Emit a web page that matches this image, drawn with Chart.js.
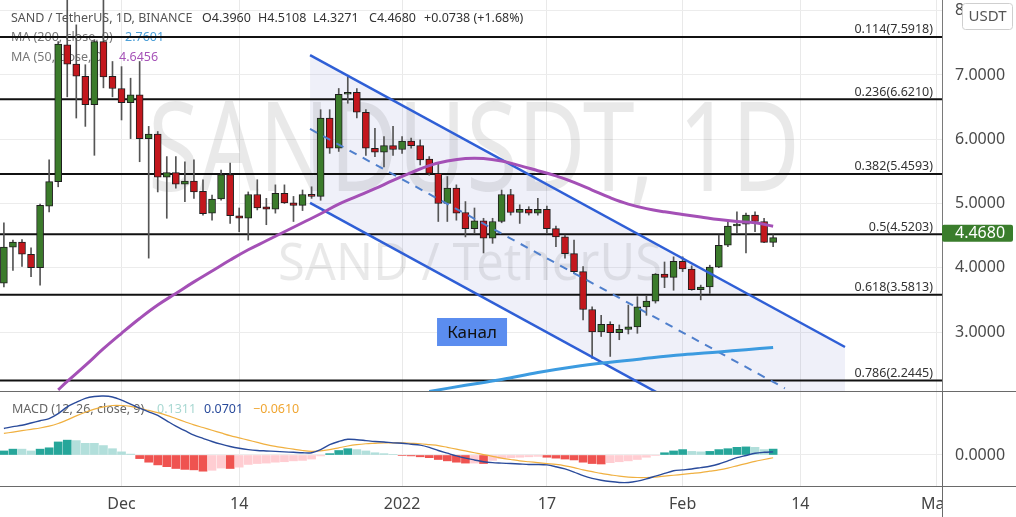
<!DOCTYPE html>
<html><head><meta charset="utf-8"><title>SANDUSDT 1D</title>
<script src="https://cdn.jsdelivr.net/npm/chart.js@4.4.1/dist/chart.umd.min.js"></script>
<style>
html,body{margin:0;padding:0;background:#fff;overflow:hidden;}
#wrap{position:relative;width:1016px;height:517px;background:#fff;}
canvas{position:absolute;left:0;display:block;}
#main{top:0;} #macd{top:391px;}
</style></head><body>
<div id="wrap">
<canvas id="main" width="1016" height="391" style="width:1016px;height:391px"></canvas>
<canvas id="macd" width="1016" height="126" style="width:1016px;height:126px"></canvas>
</div>
<script>
// ---------- DATA (day index counted from 1 Dec 2021; first candle = 18 Nov 2021) ----------
const firstDay = -13;
const openP  = [3.76,4.32,4.40,4.21,4.00,4.96,5.34,7.47,7.17,6.98,6.54,7.52,6.98,6.79,6.57,6.69,6.01,6.08,5.41,5.48,5.30,5.35,5.19,4.85,5.07,5.45,4.81,4.77,5.14,4.95,4.91,5.16,5.01,4.97,5.14,5.11,6.33,5.86,6.70,6.73,6.42,5.86,5.80,5.90,5.84,5.97,5.90,5.69,5.47,5.00,5.24,4.86,4.61,4.73,4.46,4.72,5.14,4.86,4.91,4.85,4.91,4.61,4.48,4.22,3.94,3.35,3.00,3.12,2.99,3.04,3.08,3.39,3.48,3.90,3.85,4.10,3.98,3.66,3.70,4.01,4.35,4.65,4.68,4.82,4.72,4.396];
const highP  = [4.70,4.43,4.44,4.31,4.99,5.68,7.52,8.40,7.78,7.16,7.55,8.25,7.21,7.13,6.95,7.21,6.20,6.12,5.73,5.73,5.65,5.68,5.37,5.13,5.52,5.63,4.93,5.18,5.37,5.08,5.29,5.29,5.11,5.21,5.26,6.46,6.46,6.79,6.97,6.79,6.46,6.17,6.04,6.20,6.04,6.02,5.99,5.73,5.63,5.42,5.29,5.03,4.93,4.77,4.77,5.21,5.22,4.98,4.95,5.08,4.96,4.65,4.51,4.43,4.02,3.39,3.26,3.16,3.11,3.42,3.55,3.56,3.91,4.09,4.17,4.17,4.03,3.73,4.04,4.51,4.72,4.87,4.85,4.87,4.77,4.5108];
const lowP   = [3.70,3.96,4.02,3.86,3.73,4.87,5.26,6.66,6.33,6.20,5.75,6.80,6.66,6.30,6.01,5.65,4.15,5.18,4.77,5.24,5.03,5.08,4.82,4.74,5.05,4.69,4.56,4.43,4.90,4.67,4.85,5.00,4.72,4.89,5.08,5.05,5.78,5.81,6.56,6.33,5.75,5.73,5.57,5.75,5.78,5.86,5.60,5.44,4.72,4.72,4.74,4.48,4.54,4.23,4.38,4.70,4.82,4.69,4.82,4.82,4.54,4.33,4.15,3.91,3.19,2.59,2.93,2.62,2.88,2.97,2.98,3.26,3.45,3.69,3.65,3.94,3.65,3.50,3.60,4.00,4.33,4.54,4.23,4.56,4.39,4.3271];
const closeP = [4.32,4.40,4.21,4.00,4.97,5.34,7.48,7.17,6.98,6.54,7.52,6.97,6.79,6.57,6.69,6.01,6.08,5.41,5.48,5.30,5.35,5.18,4.84,5.07,5.45,4.81,4.77,5.14,4.93,4.91,5.16,5.01,4.97,5.14,5.11,6.33,5.86,6.70,6.73,6.42,5.86,5.80,5.90,5.84,5.97,5.90,5.68,5.47,5.00,5.24,4.85,4.61,4.73,4.46,4.72,5.14,4.86,4.91,4.85,4.91,4.61,4.48,4.22,3.94,3.35,3.00,3.12,2.99,3.04,3.08,3.39,3.48,3.90,3.85,4.10,3.98,3.66,3.70,4.01,4.35,4.65,4.68,4.82,4.72,4.394,4.468];

const ma50Days = [-7,-6,-4,-2,0,2,4,6,8,10,12,14,16,18,20,22,24,26,28,30,32,34,36,38,40,42,44,46,48,50,52,54,56,58,60,62,64,66,68,70,72];
const ma50     = [2.10,2.23,2.48,2.74,2.98,3.21,3.42,3.60,3.78,3.95,4.12,4.28,4.42,4.56,4.70,4.84,4.99,5.11,5.23,5.36,5.48,5.59,5.66,5.70,5.70,5.66,5.59,5.51,5.43,5.33,5.21,5.09,4.99,4.92,4.87,4.83,4.79,4.75,4.72,4.70,4.6456];
const ma200Days = [34,38,42,46,50,54,58,62,66,69,72];
const ma200     = [2.075,2.17,2.26,2.37,2.46,2.53,2.59,2.645,2.69,2.725,2.7601];

const macdLine = [0.59,0.63,0.66,0.71,0.76,0.81,0.92,1.07,1.17,1.26,1.30,1.31,1.29,1.22,1.13,1.04,0.96,0.88,0.76,0.64,0.54,0.44,0.37,0.30,0.24,0.19,0.15,0.12,0.10,0.09,0.08,0.07,0.06,0.05,0.05,0.12,0.23,0.30,0.35,0.34,0.32,0.30,0.29,0.27,0.26,0.24,0.22,0.17,0.10,0.04,-0.02,-0.07,-0.11,-0.15,-0.17,-0.18,-0.19,-0.20,-0.21,-0.21,-0.22,-0.26,-0.31,-0.38,-0.46,-0.52,-0.56,-0.59,-0.61,-0.61,-0.58,-0.53,-0.47,-0.41,-0.35,-0.33,-0.31,-0.28,-0.25,-0.20,-0.13,-0.06,-0.01,0.04,0.06,0.0701];
const signalLine = [0.48,0.51,0.54,0.57,0.60,0.64,0.70,0.78,0.87,0.95,1.02,1.07,1.10,1.10,1.08,1.04,0.99,0.94,0.88,0.81,0.74,0.67,0.61,0.55,0.49,0.43,0.38,0.33,0.28,0.23,0.19,0.16,0.13,0.10,0.08,0.09,0.12,0.16,0.20,0.23,0.25,0.26,0.27,0.27,0.27,0.26,0.25,0.23,0.21,0.17,0.13,0.09,0.05,0.01,-0.03,-0.07,-0.10,-0.13,-0.15,-0.17,-0.19,-0.21,-0.24,-0.28,-0.33,-0.37,-0.41,-0.44,-0.47,-0.49,-0.50,-0.50,-0.49,-0.47,-0.45,-0.43,-0.41,-0.39,-0.36,-0.33,-0.29,-0.24,-0.19,-0.14,-0.10,-0.061];
const histogram = [0.09,0.13,0.13,0.09,0.13,0.16,0.29,0.33,0.32,0.26,0.26,0.21,0.14,0.07,0.02,-0.08,-0.16,-0.22,-0.26,-0.30,-0.32,-0.33,-0.36,-0.34,-0.29,-0.30,-0.27,-0.21,-0.19,-0.18,-0.16,-0.15,-0.13,-0.12,-0.09,-0.02,0.03,0.10,0.14,0.12,0.09,0.05,0.03,0.01,-0.01,-0.02,-0.04,-0.06,-0.10,-0.13,-0.16,-0.18,-0.18,-0.19,-0.12,-0.08,-0.06,-0.05,-0.04,-0.03,-0.05,-0.07,-0.09,-0.11,-0.16,-0.19,-0.20,-0.17,-0.15,-0.13,-0.10,-0.05,-0.01,0.05,0.09,0.12,0.08,0.07,0.08,0.12,0.14,0.17,0.18,0.17,0.12,0.1311];

const fibRatios = ['0.114','0.236','0.382','0.5','0.618','0.786'];
const fibPrices = [7.5918,6.6210,5.4593,4.5203,3.5813,2.2445];

const channelDays  = [20.83,79.94];
const channelUpper = [7.31,2.767];
const channelLower = [5.01,0.46];
const channelMidDays = [20.83,73.3];
const channelMid     = [6.16,2.124];
const channelLabel = 'Канал';
const channelLabelAt = [38.73,3.0];

const priceTicks = [3,4,5,6,7,8];
const macdTicks = [0];
const dateTickDays = [0,13,31,47,62,75,90];
const dateTickLabels = ['Dec','14','2022','17','Feb','14','Mar'];

// ---------- STYLE ----------
const FONT = "'Noto Sans', 'DejaVu Sans', sans-serif";
const X_MIN = -13.43, X_MAX = 90.66;
const AXIS_W = 74;
const GREEN = '#3b7b2b', RED = '#c3171d';
const CH_BLUE = '#2f5fd6';
const days = openP.map((_, i) => firstDay + i);

function xScale(showLabels){
  return {
    type:'linear', min:X_MIN, max:X_MAX, offset:false,
    afterBuildTicks: s => { s.ticks = dateTickDays.map(v => ({value:v})); },
    afterFit: s => { s.height = showLabels ? 31 : 0; s.paddingLeft = 0; s.paddingRight = 0; },
    ticks: showLabels ? {
      display:true, autoSkip:false, maxRotation:0, minRotation:0, padding:9,
      color:'#444', font:{family:FONT, size:16},
      callback: v => { const k = dateTickDays.indexOf(v); return k >= 0 ? dateTickLabels[k] : ''; }
    } : {display:false},
    grid:{color:'#e9e9e9', drawTicks:false, offset:false},
    border:{display:false}
  };
}
function yScale(min, max, tickVals){
  return {
    type:'linear', position:'right', min:min, max:max,
    afterBuildTicks: s => { s.ticks = tickVals.map(v => ({value:v})); },
    afterFit: s => { s.width = AXIS_W; s.paddingTop = 0; s.paddingBottom = 0; },
    ticks:{ callback: v => Number(v).toFixed(4), color:'#4a4a4a', font:{family:FONT, size:16}, padding:13 },
    grid:{ color:'#ececec', drawTicks:false },
    border:{ display:true, color:'#7a7a7a', width:1 }
  };
}

function stretchedText(ctx, text, left, right, baseline, cap, color){
  const size = cap / 0.714;
  ctx.save();
  ctx.font = size + 'px ' + FONT;
  const w = ctx.measureText(text).width;
  ctx.translate(left, baseline);
  ctx.scale((right - left) / w, 1);
  ctx.fillStyle = color; ctx.textAlign = 'left'; ctx.textBaseline = 'alphabetic';
  ctx.fillText(text, 0, 0);
  ctx.restore();
}
function segs(ctx, y, parts){
  ctx.textBaseline = 'middle'; ctx.textAlign = 'left';
  ctx.font = '12.5px ' + FONT;
  parts.forEach(p => { ctx.fillStyle = p[2]; ctx.fillText(p[0], p[1], y); });
}

const mainPlugin = {
  id:'mainOverlay',
  beforeDatasetsDraw(chart){
    const ctx = chart.ctx;
    stretchedText(ctx, 'SANDUSDT, 1D', 148, 800, 191, 89, 'rgba(0,0,0,0.085)');
    stretchedText(ctx, 'SAND / TetherUS', 278, 662, 280, 36, 'rgba(0,0,0,0.085)');
    ctx.save();
    segs(ctx, 18, [['SAND / TetherUS, 1D, BINANCE',11,'#555'],['O4.3960',202,'#333'],['H4.5108',258,'#333'],['L4.3271',313,'#333'],['C4.4680',369,'#333'],['+0.0738 (+1.68%)',424,'#333']]);
    segs(ctx, 37, [['MA (200, close, 0)',11,'#777'],['2.7601',125,'#4da0d8']]);
    segs(ctx, 57, [['MA (50, close, 0)',11,'#777'],['4.6456',119,'#a653b8']]);
    ctx.restore();
  },
  afterDatasetsDraw(chart){
    const ctx = chart.ctx, y = chart.scales.y, x = chart.scales.x;
    ctx.save();
    ctx.font = '12.5px ' + FONT; ctx.fillStyle = '#333';
    ctx.textAlign = 'right'; ctx.textBaseline = 'alphabetic';
    fibPrices.forEach((p, i) => {
      ctx.fillText(fibRatios[i] + '(' + p.toFixed(4) + ')', 933, y.getPixelForValue(p) - 3.5);
    });
    const cx = x.getPixelForValue(channelLabelAt[0]), cy = y.getPixelForValue(channelLabelAt[1]);
    ctx.fillStyle = '#5b8def';
    ctx.fillRect(cx - 35, cy - 14, 70, 28);
    ctx.fillStyle = '#111'; ctx.font = '17px ' + FONT;
    ctx.textAlign = 'center'; ctx.textBaseline = 'middle';
    ctx.fillText(channelLabel, cx, cy + 1);
    ctx.restore();
  },
  afterDraw(chart){
    const ctx = chart.ctx, y = chart.scales.y;
    const area = chart.chartArea;
    ctx.save();
    const py = y.getPixelForValue(closeP[closeP.length - 1]);
    ctx.fillStyle = '#3a7d2c';
    ctx.beginPath(); ctx.roundRect(area.right, py - 13, 71, 17, 2); ctx.fill();
    ctx.fillStyle = '#fff'; ctx.font = '16px ' + FONT;
    ctx.textAlign = 'left'; ctx.textBaseline = 'middle';
    ctx.fillText(closeP[closeP.length - 1].toFixed(4), area.right + 13, py - 4.5);
    ctx.fillStyle = '#fff'; ctx.strokeStyle = '#cfcfcf'; ctx.lineWidth = 1;
    ctx.beginPath(); ctx.roundRect(962.5, 3.5, 50, 26, 3); ctx.fill(); ctx.stroke();
    ctx.fillStyle = '#555'; ctx.font = '15px ' + FONT; ctx.textAlign = 'center';
    ctx.fillText('USDT', 987.5, 17);
    ctx.restore();
  }
};

const pt = (xs, ys) => xs.map((d, i) => ({x:d, y:ys[i]}));
const fibSets = fibPrices.map(p => ({
  type:'line', data:[{x:X_MIN, y:p}, {x:X_MAX, y:p}],
  borderColor:'#111', borderWidth:2, pointRadius:0, fill:false, order:7
}));

new Chart(document.getElementById('main'), {
  type:'bar',
  data:{ datasets:[
    { type:'line', label:'MA50', data:pt(ma50Days, ma50), borderColor:'#a450b6', borderWidth:3, pointRadius:0, tension:0.4, order:1 },
    { type:'line', label:'MA200', data:pt(ma200Days, ma200), borderColor:'#3c9be0', borderWidth:3, pointRadius:0, tension:0.4, order:2 },
    { type:'line', label:'upper', data:pt(channelDays, channelUpper), borderColor:CH_BLUE, borderWidth:2.5, pointRadius:0, fill:'+1', backgroundColor:'rgba(95,105,200,0.10)', order:3 },
    { type:'line', label:'lower', data:pt(channelDays, channelLower), borderColor:CH_BLUE, borderWidth:2.5, pointRadius:0, fill:false, order:3 },
    { type:'line', label:'mid', data:pt(channelMidDays, channelMid), borderColor:'#4f7fcc', borderWidth:2, borderDash:[8,7], pointRadius:0, fill:false, order:3 },
    { label:'bodies', data:days.map((d, i) => ({x:d, y:[openP[i], closeP[i]]})),
      backgroundColor: c => closeP[c.dataIndex] >= openP[c.dataIndex] ? GREEN : RED,
      borderColor:'#1e1e1e', borderWidth:1, borderSkipped:false, barThickness:7, minBarLength:2, grouped:false, order:5 },
    { label:'wicks', data:days.map((d, i) => ({x:d, y:[lowP[i], highP[i]]})),
      backgroundColor:'#555', borderWidth:0, barThickness:1, grouped:false, order:6 },
    ...fibSets
  ]},
  options:{
    responsive:false, animation:false, devicePixelRatio:1,
    layout:{padding:0},
    plugins:{ legend:{display:false}, tooltip:{enabled:false}, filler:{drawTime:'beforeDatasetsDraw'} },
    scales:{ x:xScale(false), y:yScale(2.082, 8.167, priceTicks) }
  },
  plugins:[mainPlugin]
});

const histColor = c => {
  const i = c.dataIndex, v = histogram[i], prev = i > 0 ? histogram[i - 1] : -Infinity;
  if (v >= 0) return v > prev ? '#26a69a' : '#b2dfdb';
  return v < prev ? '#ef5350' : '#ffcdd2';
};

const macdPlugin = {
  id:'macdOverlay',
  beforeDatasetsDraw(chart){
    const ctx = chart.ctx; ctx.save();
    segs(ctx, 18, [['MACD (12, 26, close, 9)',12,'#666'],['0.1311',157,'#a8d8d2'],['0.0701',204,'#2a4b9b'],['\u22120.0610',253,'#f0a632']]);
    ctx.restore();
  },
  afterDraw(chart){
    const ctx = chart.ctx, a = chart.chartArea;
    ctx.save();
    ctx.fillStyle = '#fff';
    ctx.fillRect(a.right, a.bottom + 1, 1016 - a.right, 126 - a.bottom);
    ctx.strokeStyle = '#6a6a6a'; ctx.lineWidth = 1;
    ctx.beginPath();
    ctx.moveTo(0, 0.5); ctx.lineTo(1016, 0.5);
    ctx.moveTo(0, a.bottom + 0.5); ctx.lineTo(1016, a.bottom + 0.5);
    ctx.moveTo(a.right + 0.5, 0); ctx.lineTo(a.right + 0.5, 126);
    ctx.stroke();
    ctx.restore();
  }
};

new Chart(document.getElementById('macd'), {
  type:'bar',
  data:{ datasets:[
    { type:'line', label:'MACD', data:pt(days, macdLine), borderColor:'#2a4b9b', borderWidth:1.4, pointRadius:0, tension:0.3, order:1 },
    { type:'line', label:'Signal', data:pt(days, signalLine), borderColor:'#f0b040', borderWidth:1.2, pointRadius:0, tension:0.3, order:2 },
    { label:'Histogram', data:pt(days, histogram), backgroundColor:histColor, borderWidth:0, barThickness:8, grouped:false, order:3 }
  ]},
  options:{
    responsive:false, animation:false, devicePixelRatio:1,
    layout:{padding:0},
    plugins:{ legend:{display:false}, tooltip:{enabled:false} },
    scales:{ x:xScale(true), y:yScale(-0.6889, 1.4222, macdTicks) }
  },
  plugins:[macdPlugin]
});
</script>
</body></html>
